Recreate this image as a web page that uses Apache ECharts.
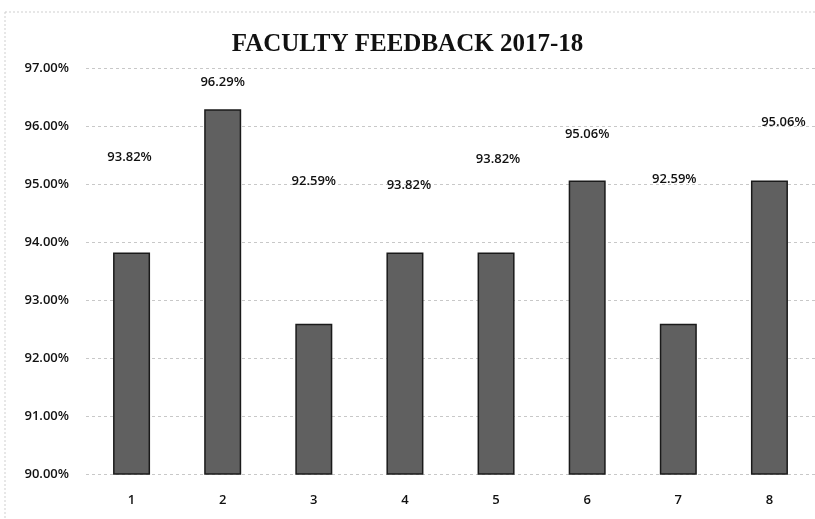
<!DOCTYPE html>
<html><head><meta charset="utf-8">
<script src="https://cdn.jsdelivr.net/npm/echarts@6/dist/echarts.min.js"></script>
<style>html,body{margin:0;padding:0;background:#fff}#c{width:815px;height:519px}</style>
</head><body><div id="c"></div>
<script>
var categories = ['1','2','3','4','5','6','7','8'];
var feedback = [93.82, 96.29, 92.59, 93.82, 93.82, 95.06, 92.59, 95.06];
var yTicks = [90, 91, 92, 93, 94, 95, 96, 97];

// label placement style (pixel offsets as seen in the scanned reference)
var labelShift = [[-2,-84],[0,-15],[0,-131],[4,-56],[2,-82],[0,-35],[-4,-133],[14,-47]];

var chart = echarts.init(document.getElementById('c'), null, {renderer:'canvas'});
chart.setOption({
  backgroundColor:'#fff',
  animation:false,
  title:{text:'FACULTY FEEDBACK 2017-18', left:'center', top:27,
    textStyle:{fontFamily:'Liberation Serif', fontWeight:'bold', fontSize:25, color:'#111'}},
  grid:{left:86, top:68, width:736, height:406},
  xAxis:{type:'category', data:categories,
    axisLine:{show:false}, axisTick:{show:false},
    axisLabel:{margin:20, fontFamily:'Open Sans', fontSize:13, color:'#111', fontWeight:600}},
  yAxis:{type:'value', min:yTicks[0], max:yTicks[yTicks.length-1], interval:1,
    axisLine:{show:false}, axisTick:{show:false},
    axisLabel:{margin:17, fontFamily:'Open Sans', fontSize:13, color:'#111', fontWeight:600,
      formatter:function(v){return v.toFixed(2)+'%';}},
    splitLine:{lineStyle:{color:'#c8c8c8', type:[3,3], width:1}}},
  series:[{type:'bar', barWidth:37,
    data:feedback.map(function(v,i){return {value:v,
      label:{offset:labelShift[i]}};}),
    itemStyle:{color:'#606060', borderColor:'#1a1a1a', borderWidth:1.5},
    label:{show:true, position:'top', fontFamily:'Open Sans', fontSize:13, color:'#111', fontWeight:600,
      formatter:function(p){return p.value.toFixed(2)+'%';}}
  }],
  graphic:[{type:'rect', shape:{x:5,y:12,width:815,height:520}, silent:true,
    style:{fill:'none', stroke:'#cfcfcf', lineWidth:1, lineDash:[2,2]}}]
});
</script></body></html>
